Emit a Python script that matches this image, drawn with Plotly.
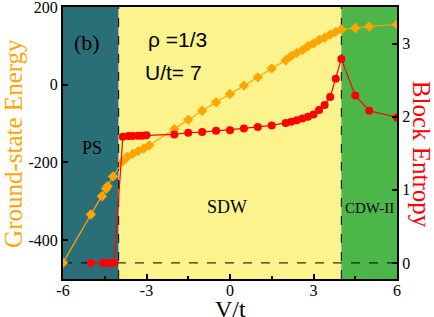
import plotly.graph_objects as go

# Ground-state energy (left axis)
v_energy = [-6, -5, -4.6, -4.45, -4.4, -4.2, -3.85, -3.7, -3.5, -3.3, -3.1, -2.9,
            -2, -1.5, -1, -0.5, 0, 0.5, 1, 1.5, 2, 2.2, 2.4, 2.6, 2.8, 3.0, 3.2,
            3.4, 3.6, 3.8, 4.0, 4.5, 5, 6]
energy = [-458, -334, -287, -268, -261, -236, -197, -186, -178, -171, -164, -156,
          -114, -90, -67, -45, -24, -2, 19, 42, 63, 74, 82, 89, 99, 106, 115,
          121, 129, 136, 142, 146, 150, 155]

# Block entropy (right axis)
v_entropy = [-5, -4.55, -4.43, -4.3, -4.16, -3.85, -3.65, -3.5, -3.3, -3.15, -3.0,
             -2, -1.5, -1, -0.5, 0, 0.5, 1, 1.5, 2, 2.2, 2.4, 2.6, 2.8, 3.0, 3.2,
             3.4, 3.6, 3.8, 4.0, 4.5, 5, 6]
entropy = [0, 0, 0, 0, 0, 1.725, 1.735, 1.735, 1.74, 1.74, 1.745,
           1.757, 1.78, 1.79, 1.806, 1.816, 1.84, 1.86, 1.88, 1.915, 1.93, 1.95,
           1.975, 2.0, 2.03, 2.09, 2.16, 2.27, 2.52, 2.79, 2.29, 2.08, 1.99]

x_ticks = [-6, -3, 0, 3, 6]
e_ticks = [-400, -200, 0, 200]
s_ticks = [0, 1, 2, 3]

phases = [("PS", -6, -4, "#2a6f78"), ("SDW", -4, 4, "#fdf38c"), ("CDW-II", 4, 6, "#4cb648")]
SERIF = "Liberation Serif, Times New Roman, serif"
SANS = "Liberation Sans, Arial, sans-serif"

fig = go.Figure()
fig.add_trace(go.Scatter(x=v_energy, y=energy, mode="lines+markers",
                         line=dict(color="#ffa500", width=1.2),
                         marker=dict(symbol="diamond", size=8, color="#ffa500"),
                         yaxis="y", showlegend=False))
fig.add_trace(go.Scatter(x=v_entropy, y=entropy, mode="lines+markers",
                         line=dict(color="#ff0000", width=1.2),
                         marker=dict(symbol="circle", size=8, color="#ff0000"),
                         yaxis="y2", showlegend=False))

shapes = []
for name, x0, x1, col in phases:
    shapes.append(dict(type="rect", xref="x", yref="paper", x0=x0, x1=x1, y0=0, y1=1,
                       fillcolor=col, line=dict(width=0), layer="below"))
for xv in [-4, 4]:
    shapes.append(dict(type="line", xref="x", yref="paper", x0=xv, x1=xv, y0=0, y1=1,
                       line=dict(color="black", width=1, dash="dash"), layer="below"))
shapes.append(dict(type="line", xref="paper", yref="y2", x0=0, x1=1, y0=0, y1=0,
                   line=dict(color="black", width=1, dash="dash"), layer="below"))

annotations = [
    dict(text="Ground-state Energy", xref="paper", yref="paper", x=-0.15, y=0.5,
         textangle=-90, showarrow=False, font=dict(family=SERIF, size=25, color="#ffa500"),
         xanchor="center", yanchor="middle"),
    dict(text="Block Entropy", xref="paper", yref="paper", x=1.072, y=0.46,
         textangle=90, showarrow=False, font=dict(family=SERIF, size=25, color="#ff0000"),
         xanchor="center", yanchor="middle"),
    dict(text="V/t", xref="paper", yref="paper", x=0.5, y=-0.112, showarrow=False,
         font=dict(family=SERIF, size=24, color="black"), xanchor="center", yanchor="middle"),
    dict(text="(b)", xref="x", yref="paper", x=-5.12, y=0.923, showarrow=False,
         font=dict(family=SERIF, size=22, color="black")),
    dict(text="ρ =1/3", xref="x", yref="paper", x=-1.9, y=0.93, showarrow=False,
         font=dict(family=SANS, size=21, color="black")),
    dict(text="U/t= 7", xref="x", yref="paper", x=-2.03, y=0.809, showarrow=False,
         font=dict(family=SANS, size=21, color="black")),
    dict(text="PS", xref="x", yref="paper", x=-4.96, y=0.482, showarrow=False,
         font=dict(family=SERIF, size=18, color="black")),
    dict(text="SDW", xref="x", yref="paper", x=-0.11, y=0.22, showarrow=False,
         font=dict(family=SERIF, size=18, color="black")),
    dict(text="CDW-II", xref="x", yref="paper", x=5.01, y=0.224, showarrow=False,
         font=dict(family=SERIF, size=15, color="black")),
]

tickfont = dict(family=SERIF, size=16, color="black")
fig.update_layout(
    width=434, height=317,
    margin=dict(l=63, r=37, t=7, b=38, autoexpand=False),
    paper_bgcolor="white", plot_bgcolor="white",
    font=dict(family=SERIF, color="black"),
    shapes=shapes, annotations=annotations,
    xaxis=dict(range=[-6, 6], tickvals=x_ticks, ticktext=[str(t) for t in x_ticks],
               ticks="inside", ticklen=5, tickwidth=1.5, tickcolor="black",
               minor=dict(tickvals=[-4.5, -1.5, 1.5, 4.5], ticks="inside", ticklen=3,
                          tickcolor="black"),
               ticklabelstandoff=-4, automargin=False, ticklabeloverflow="allow",
               showline=True, linecolor="black", linewidth=2, mirror=True,
               showgrid=False, zeroline=False, tickfont=tickfont),
    yaxis=dict(range=[-500, 200], tickvals=e_ticks, ticktext=[str(t) for t in e_ticks],
               ticks="inside", ticklen=5, tickwidth=1.5, tickcolor="black",
               automargin=False, ticklabeloverflow="allow",
               showline=True, linecolor="black", linewidth=2,
               showgrid=False, zeroline=False, tickfont=tickfont),
    yaxis2=dict(range=[-0.22, 3.5], tickvals=s_ticks, ticktext=[str(t) for t in s_ticks],
                overlaying="y", side="right", automargin=False, ticklabeloverflow="allow",
                ticks="inside", ticklen=5, tickwidth=1.5, tickcolor="black",
                showline=True, linecolor="black", linewidth=2,
                showgrid=False, zeroline=False, tickfont=tickfont),
)

fig.write_html("out.html", config={"displayModeBar": False},
               post_script="document.body.style.margin='0';")
